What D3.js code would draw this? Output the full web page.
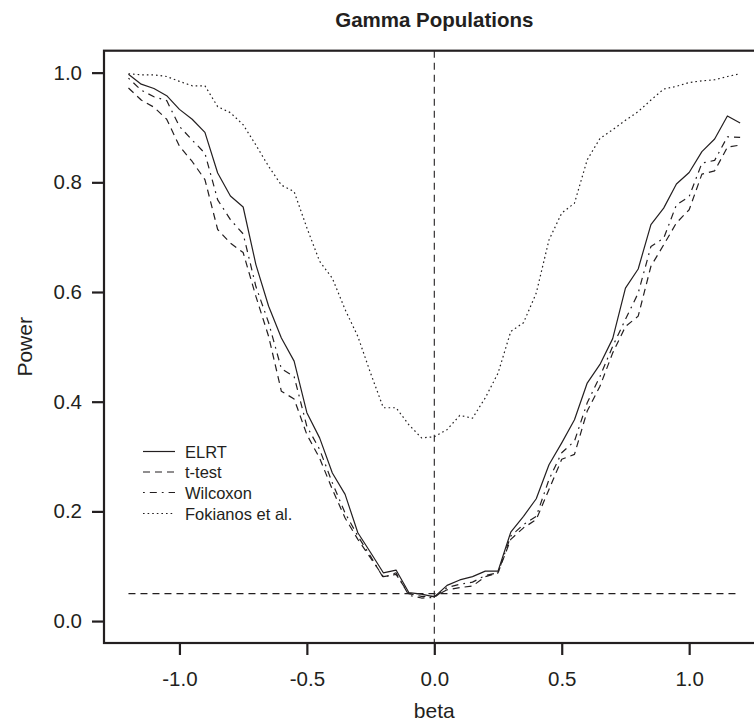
<!DOCTYPE html>
<html>
<head>
<meta charset="utf-8">
<script src="https://cdn.jsdelivr.net/npm/d3@7"></script>
<style>
  html, body { margin: 0; padding: 0; background: #fff; }
  svg { display: block; font-family: "Liberation Sans", Arial, Helvetica, sans-serif; }
</style>
</head>
<body>
<svg id="chart" width="754" height="723"></svg>
<script>
const betas = [-1.2,-1.15,-1.1,-1.05,-1.0,-0.95,-0.9,-0.85,-0.8,-0.75,-0.7,-0.65,-0.6,-0.55,-0.5,-0.45,-0.4,-0.35,-0.3,-0.25,-0.2,-0.15,-0.1,-0.05,0,0.05,0.1,0.15,0.2,0.25,0.3,0.35,0.4,0.45,0.5,0.55,0.6,0.65,0.7,0.75,0.8,0.85,0.9,0.95,1.0,1.05,1.1,1.15,1.2];

const elrt = [0.997,0.979,0.971,0.958,0.933,0.915,0.891,0.817,0.775,0.755,0.650,0.574,0.516,0.474,0.380,0.334,0.270,0.231,0.161,0.125,0.088,0.093,0.052,0.049,0.044,0.065,0.075,0.081,0.091,0.091,0.162,0.191,0.223,0.285,0.325,0.367,0.434,0.468,0.515,0.607,0.642,0.723,0.753,0.797,0.818,0.856,0.879,0.921,0.908];

const ttest = [0.972,0.950,0.937,0.915,0.866,0.838,0.805,0.714,0.689,0.672,0.592,0.519,0.419,0.405,0.340,0.297,0.240,0.188,0.149,0.115,0.081,0.085,0.050,0.045,0.045,0.057,0.061,0.064,0.081,0.088,0.149,0.170,0.185,0.240,0.295,0.304,0.383,0.428,0.489,0.537,0.556,0.647,0.686,0.726,0.750,0.815,0.821,0.864,0.868];

const wilcoxon = [0.990,0.968,0.956,0.949,0.902,0.877,0.853,0.768,0.732,0.706,0.610,0.544,0.460,0.446,0.355,0.313,0.252,0.197,0.155,0.118,0.079,0.088,0.047,0.042,0.043,0.061,0.067,0.071,0.083,0.088,0.155,0.176,0.191,0.258,0.307,0.328,0.398,0.446,0.501,0.550,0.598,0.683,0.698,0.759,0.774,0.835,0.840,0.883,0.882];

const fokianos = [0.998,0.996,0.996,0.993,0.984,0.976,0.976,0.938,0.927,0.905,0.868,0.829,0.795,0.783,0.717,0.656,0.625,0.568,0.519,0.452,0.389,0.389,0.358,0.334,0.336,0.349,0.375,0.370,0.407,0.452,0.528,0.544,0.598,0.695,0.744,0.762,0.841,0.880,0.896,0.913,0.929,0.950,0.970,0.975,0.982,0.985,0.987,0.993,0.998];

const seriesNames = ["ELRT", "t-test", "Wilcoxon", "Fokianos et al."];
const xTicks = [-1.0, -0.5, 0.0, 0.5, 1.0];
const yTicks = [0.0, 0.2, 0.4, 0.6, 0.8, 1.0];
const refBeta = 0;
const refPower = 0.05;

(function () {
const ink = "#231f20";
const dashes = [null, "7,5", "1.8,5,7,5", "1.6,3"];

const svg = d3.select("#chart");
const pL = 104, pR = 764.6, pT = 50.7, pB = 643;

const x = d3.scaleLinear().domain([-1.296, 1.296]).range([pL, pR]);
const y = d3.scaleLinear().domain([-0.04, 1.04]).range([pB, pT]);

const fmt = v => d3.format(".1f")(v).replace("\u2212", "-");

// reference lines
svg.append("line")
  .attr("x1", x(refBeta)).attr("x2", x(refBeta))
  .attr("y1", pT).attr("y2", pB)
  .attr("stroke", ink).attr("stroke-width", 1.1).attr("stroke-dasharray", "7,5");
svg.append("line")
  .attr("x1", x(betas[0])).attr("x2", x(betas[betas.length - 1]))
  .attr("y1", y(refPower)).attr("y2", y(refPower))
  .attr("stroke", ink).attr("stroke-width", 1.1).attr("stroke-dasharray", "7,5");

// series
const allSeries = [elrt, ttest, wilcoxon, fokianos];
const line = d3.line().x((d, i) => x(betas[i])).y(d => y(d));
allSeries.forEach((s, k) => {
  svg.append("path")
    .datum(s)
    .attr("d", line)
    .attr("fill", "none")
    .attr("stroke", ink)
    .attr("stroke-width", 1.2)
    .attr("stroke-linejoin", "round")
    .attr("stroke-dasharray", dashes[k]);
});

// box
svg.append("rect")
  .attr("x", pL).attr("y", pT)
  .attr("width", pR - pL).attr("height", pB - pT)
  .attr("fill", "none").attr("stroke", ink).attr("stroke-width", 2.2);

// axes
const xAxis = svg.append("g")
  .attr("transform", `translate(0,${pB})`)
  .call(d3.axisBottom(x).tickValues(xTicks).tickFormat(fmt).tickSize(12).tickPadding(16));
const yAxis = svg.append("g")
  .attr("transform", `translate(${pL},0)`)
  .call(d3.axisLeft(y).tickValues(yTicks).tickFormat(fmt).tickSize(12).tickPadding(10));
[xAxis, yAxis].forEach(g => {
  g.select(".domain").remove();
  g.selectAll(".tick line").attr("stroke", ink).attr("stroke-width", 2.2);
  g.selectAll(".tick text")
    .attr("fill", ink)
    .style("font-size", "20.5px")
    .style("font-family", "'Liberation Sans', Arial, sans-serif");
});

// title & labels
svg.append("text")
  .attr("x", (pL + pR) / 2).attr("y", 27)
  .attr("text-anchor", "middle")
  .attr("font-weight", "bold").attr("font-size", 20.5)
  .attr("fill", ink)
  .text("Gamma Populations");
svg.append("text")
  .attr("x", (pL + pR) / 2).attr("y", 718)
  .attr("text-anchor", "middle")
  .attr("font-size", 21).attr("fill", ink)
  .text("beta");
svg.append("text")
  .attr("transform", `translate(32,${(pT + pB) / 2}) rotate(-90)`)
  .attr("text-anchor", "middle")
  .attr("font-size", 21).attr("fill", ink)
  .text("Power");

// legend
const legendRows = [451.5, 472, 492.5, 513.5];
const lg = svg.append("g");
seriesNames.forEach((name, k) => {
  lg.append("line")
    .attr("x1", 143).attr("x2", 175)
    .attr("y1", legendRows[k]).attr("y2", legendRows[k])
    .attr("stroke", ink).attr("stroke-width", 1.2)
    .attr("stroke-dasharray", dashes[k]);
  lg.append("text")
    .attr("x", 185).attr("y", legendRows[k] + 6)
    .attr("font-size", 16.5).attr("fill", ink)
    .text(name);
});
})();
</script>
</body>
</html>
